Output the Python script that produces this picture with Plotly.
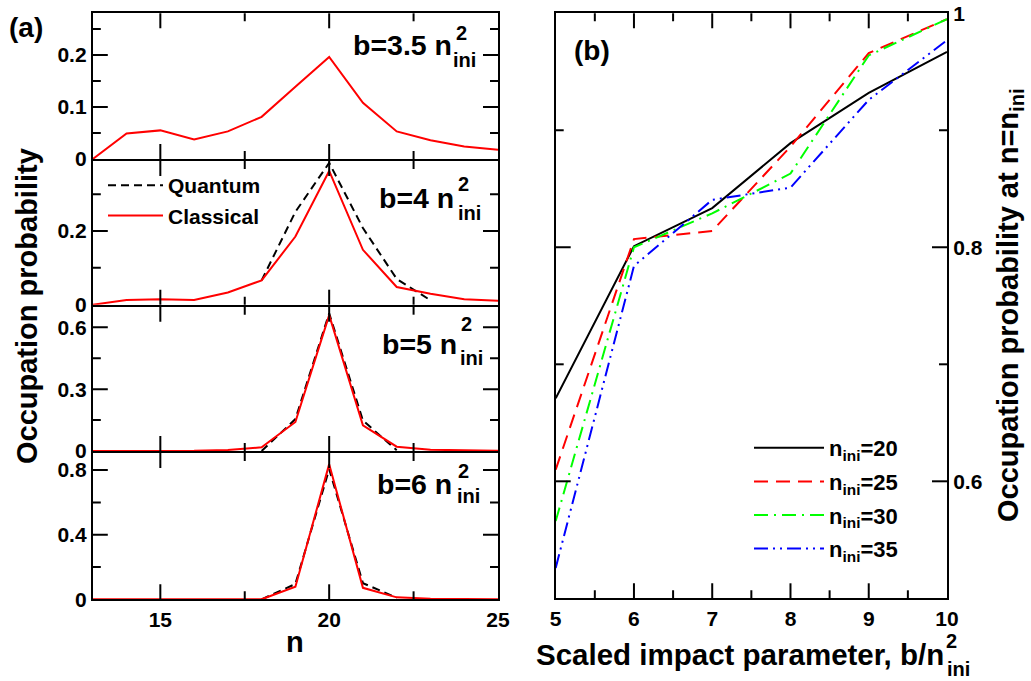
import plotly.graph_objects as go

W, H = 1031, 681


def px(x):
    return x / W


def py(y):
    return 1 - y / H


FONT = "Liberation Sans"

# ---------------- data: panel (a) ----------------
n_vals = list(range(13, 26))
classical_b35 = [0, 0.049, 0.055, 0.0375, 0.053, 0.081, 0.139, 0.196, 0.108, 0.053, 0.036, 0.024, 0.018]
classical_b4 = [0, 0.0126, 0.015, 0.0126, 0.033, 0.066, 0.185, 0.363, 0.149, 0.048, 0.030, 0.015, 0.011]
classical_b5 = [0, 0, 0.0005, 0.001, 0.005, 0.018, 0.141, 0.659, 0.125, 0.021, 0.006, 0.002, 0.001]
classical_b6 = [0, 0, 0, 0, 0, 0.0, 0.078, 0.837, 0.071, 0.012, 0.003, 0.001, 0.0]

quantum_n_b4 = [18, 19, 20, 21, 22, 23]
quantum_b4 = [0.066, 0.252, 0.385, 0.208, 0.07, 0.012]
quantum_n_b5 = [18, 19, 20, 21, 22]
quantum_b5 = [0.0, 0.155, 0.668, 0.148, 0.004]
quantum_n_b6 = [18, 19, 20, 21, 22]
quantum_b6 = [0.0, 0.095, 0.806, 0.10, 0.01]

panel_a_labels = ["b=3.5 n", "b=4 n", "b=5 n", "b=6 n"]
panel_a_ymax = [0.28, 0.39, 0.70, 0.906]
panel_a_dtick = [0.1, 0.2, 0.3, 0.4]

# tick values (major / minor)
n_ticks_major = [15, 20]
n_ticks_minor = [17.5, 22.5]
prob_ticks_major = [[0.1, 0.2], [0.2], [0.3, 0.6], [0.4, 0.8]]
prob_ticks_minor = [[0.05, 0.15, 0.25], [0.1, 0.3], [0.15, 0.45], [0.2, 0.6]]

# ---------------- data: panel (b) ----------------
b_scaled = [5, 6, 7, 8, 9, 10]
occ_n20 = [0.671, 0.801, 0.8335, 0.889, 0.932, 0.967]
occ_n25 = [0.610, 0.807, 0.814, 0.886, 0.966, 0.995]
occ_n30 = [0.566, 0.800, 0.829, 0.863, 0.964, 0.995]
occ_n35 = [0.526, 0.784, 0.8406, 0.851, 0.926, 0.977]
n_ini_labels = ["20", "25", "30", "35"]
b_ticks_major = [6, 7, 8, 9]
b_ticks_minor = [5.5, 6.5, 7.5, 8.5, 9.5]
occ_ticks_major = [0.6, 0.8]
occ_ticks_minor = [0.7, 0.9]

fig = go.Figure()

classical_sets = [classical_b35, classical_b4, classical_b5, classical_b6]
quantum_sets = [None, (quantum_n_b4, quantum_b4), (quantum_n_b5, quantum_b5), (quantum_n_b6, quantum_b6)]

for i in range(4):
    ax = "" if i == 0 else str(i + 1)
    q = quantum_sets[i]
    if q is not None:
        fig.add_trace(go.Scatter(
            x=q[0], y=q[1], mode="lines", name="Quantum",
            line=dict(color="black", width=2, dash="8px,5px"),
            xaxis="x" + ax, yaxis="y" + ax,
            showlegend=(i == 1), legend="legend",
        ))
    fig.add_trace(go.Scatter(
        x=n_vals, y=classical_sets[i], mode="lines", name="Classical",
        line=dict(color="#ff0000", width=2),
        xaxis="x" + ax, yaxis="y" + ax,
        showlegend=(i == 1), legend="legend",
    ))

styles_b = [
    ("black", "solid", occ_n20),
    ("#ff0000", "14px,8px", occ_n25),
    ("#00ff00", "14px,6px,2px,6px", occ_n30),
    ("#0000ff", "14px,5px,2px,5px,2px,5px", occ_n35),
]
for (col, dash, vals), lab in zip(styles_b, n_ini_labels):
    fig.add_trace(go.Scatter(
        x=b_scaled, y=vals, mode="lines",
        name="n<sub>ini</sub>=" + lab,
        line=dict(color=col, width=2, dash=dash),
        xaxis="x5", yaxis="y5", legend="legend2", legendgroup=lab,
    ))

# ---------------- axes ----------------
tf = dict(family=FONT, size=21, color="black", weight="bold")
main = dict(
    showline=True, linewidth=2, linecolor="black", mirror=True,
    ticks="", showgrid=False, zeroline=False, tickfont=tf,
)

bounds = [13.3, 160, 305.7, 452, 599.3]
tops = [bounds[0], bounds[1] + 1, bounds[2] + 1, bounds[3] + 1]
bots = [bounds[1] - 1, bounds[2] - 1, bounds[3] - 1, bounds[4]]
xdom_a = [px(92.8), px(498)]

layout_axes = {}
frames = []  # (x id, y id, x major, x minor, y major, y minor)
for i in range(4):
    key = "" if i == 0 else str(i + 1)
    layout_axes["xaxis" + key] = dict(
        main, domain=xdom_a, range=[13, 25], anchor="y" + key,
        dtick=5, tick0=0, showticklabels=(i == 3),
    )
    layout_axes["yaxis" + key] = dict(
        main, domain=[py(bots[i]), py(tops[i])], range=[0, panel_a_ymax[i]],
        anchor="x" + key, dtick=panel_a_dtick[i], tick0=0,
    )
    frames.append(("x" + key, "y" + key, n_ticks_major, n_ticks_minor,
                   prob_ticks_major[i], prob_ticks_minor[i]))

layout_axes["xaxis5"] = dict(
    main, domain=[px(555.7), px(947)], range=[5, 10], anchor="y5", dtick=1, tick0=0,
)
layout_axes["yaxis5"] = dict(
    main, domain=[py(598.3), py(13.3)], range=[0.5, 1.0], anchor="x5",
    side="right", dtick=0.2, tick0=0,
)
frames.append(("x5", "y5", b_ticks_major, b_ticks_minor, occ_ticks_major, occ_ticks_minor))

fig.update_layout(**layout_axes)

# ---------------- inward tick marks on all four sides ----------------
MAJ, MIN = 15, 8
tick_shapes = []
tick_line = dict(color="black", width=2)
for xid, yid, xmaj, xmin, ymaj, ymin in frames:
    for vals, ln in ((xmaj, MAJ), (xmin, MIN)):
        for v in vals:
            for anc, sgn in ((0, 1), (1, -1)):
                tick_shapes.append(dict(
                    type="line", xref=xid, yref=yid + " domain",
                    x0=v, x1=v, ysizemode="pixel", yanchor=anc, y0=0, y1=sgn * ln,
                    line=tick_line, layer="above",
                ))
    for vals, ln in ((ymaj, MAJ), (ymin, MIN)):
        for v in vals:
            for anc, sgn in ((0, 1), (1, -1)):
                tick_shapes.append(dict(
                    type="line", xref=xid + " domain", yref=yid,
                    y0=v, y1=v, xsizemode="pixel", xanchor=anc, x0=0, x1=sgn * ln,
                    line=tick_line, layer="above",
                ))

# ---------------- annotations ----------------
bold = dict(family=FONT, color="black", weight="bold")
ann = []


def add_text(text, x, y, size, xanchor="center", yanchor="middle", angle=0):
    ann.append(dict(
        text=text, x=px(x), y=py(y), xref="paper", yref="paper",
        xanchor=xanchor, yanchor=yanchor, showarrow=False, textangle=angle,
        font=dict(bold, size=size), borderpad=0,
    ))


add_text("(a)", 26, 28, 28)
add_text("(b)", 592, 50, 28)

main_right = [453.3, 455, 458.3, 453.3]
main_y = [44.6, 198.3, 343.6, 483.6]
ini_pos = [(464.8, 59.8), (469.8, 213.1), (471.7, 358.1), (468.3, 496.4)]
sup_pos = [(461, 33), (463, 184), (466.7, 324), (463, 471)]
for i in range(4):
    add_text(panel_a_labels[i], main_right[i], main_y[i], 28.5, xanchor="right")
    add_text("ini", ini_pos[i][0], ini_pos[i][1], 20)
    add_text("2", sup_pos[i][0], sup_pos[i][1], 20)

add_text("Occupation probability", 27, 306, 29, angle=-90)
add_text("n", 294.7, 642, 29)
add_text("Scaled impact parameter, b/n", 740, 654.8, 29.5)
add_text("ini", 958.3, 669, 20)
add_text("2", 951, 641, 20)
add_text("Occupation probability at n=n<sub>ini</sub>", 1010, 305, 29, angle=-90)

fig.update_layout(
    template="none",
    autosize=True,
    margin=dict(l=0, r=0, t=0, b=0, pad=0),
    paper_bgcolor="white", plot_bgcolor="white",
    annotations=ann,
    shapes=tick_shapes,
    legend=dict(
        x=px(103), y=py(165), xanchor="left", yanchor="top",
        itemwidth=55, bgcolor="rgba(0,0,0,0)", borderwidth=0,
        font=dict(bold, size=21),
    ),
    legend2=dict(
        x=px(749), y=py(427), xanchor="left", yanchor="top",
        itemwidth=70, bgcolor="rgba(0,0,0,0)", borderwidth=0,
        tracegroupgap=2,
        font=dict(bold, size=22),
    ),
)

fig.write_html(
    "out.html",
    default_width="100vw",
    default_height="100vh",
    config={"displayModeBar": False},
    post_script=(
        "document.body.style.margin='0';"
        "document.body.style.overflow='hidden';"
        "Plotly.Plots.resize(document.getElementById('{plot_id}'));"
    ),
)
